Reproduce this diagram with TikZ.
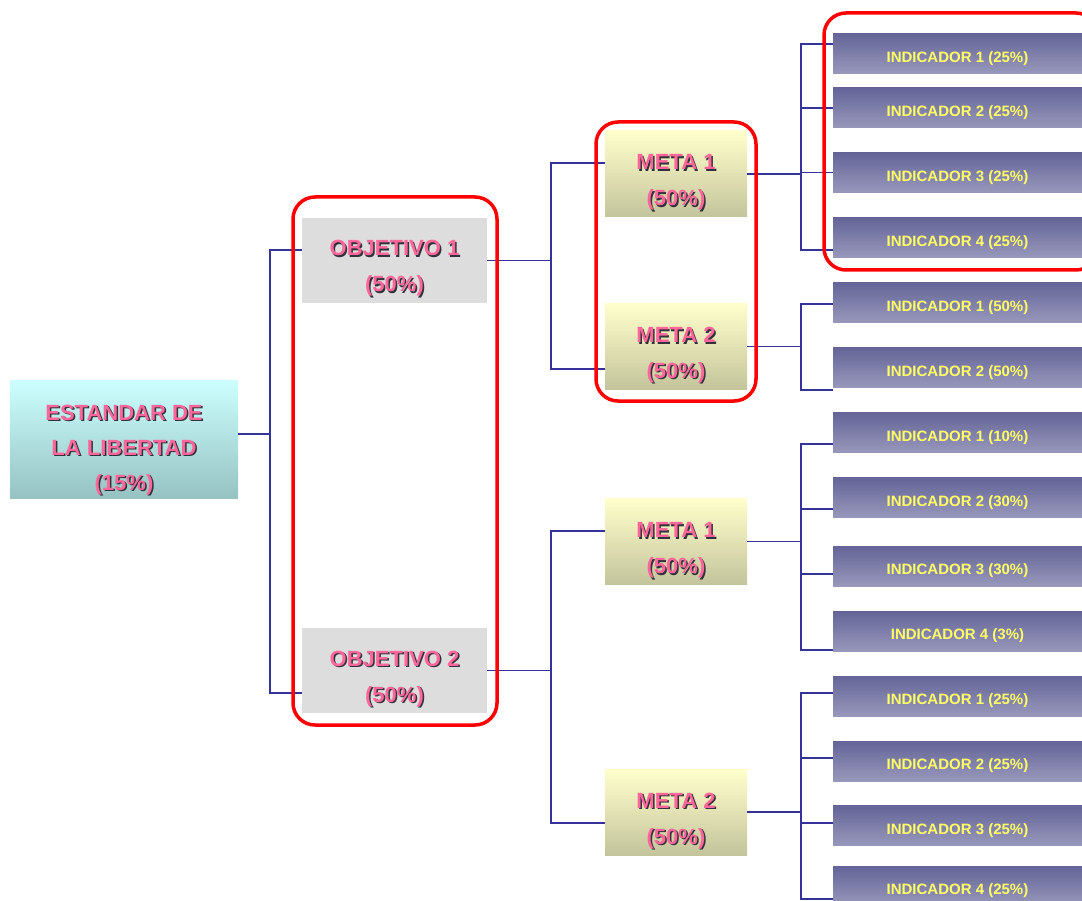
\documentclass[tikz,border=0pt]{standalone}
\usepackage{fontspec}
\setmainfont{Liberation Sans}
\definecolor{pinktxt}{RGB}{255,102,153}
\definecolor{shadowgray}{RGB}{50,50,60}
\definecolor{yellowtxt}{RGB}{255,255,102}
\definecolor{linkblue}{RGB}{51,51,153}
\definecolor{hilite}{RGB}{255,0,0}
\definecolor{rootTop}{RGB}{204,255,255}
\definecolor{rootBot}{RGB}{150,194,194}
\definecolor{objFill}{RGB}{221,221,221}
\definecolor{metaTop}{RGB}{255,255,204}
\definecolor{metaBot}{RGB}{196,196,156}
\definecolor{indTop}{RGB}{100,100,152}
\definecolor{indBot}{RGB}{152,152,188}
% pink caption with a dark drop shadow
\newcommand\shtext[1]{\leavevmode\rlap{\kern1.5pt\raisebox{-1.5pt}{\color{shadowgray}#1}}#1}
% multi-line node text sits on its last baseline; text height/depth place it in the box
\tikzset{
  bigtext/.style={font=\fontsize{22}{36}\selectfont\bfseries, text=pinktxt, align=center, inner sep=0pt},
  rootbox/.style={bigtext, font=\fontsize{22}{35}\selectfont\bfseries, top color=rootTop, bottom color=rootBot,
    minimum width=228pt, minimum height=118pt, text height=102pt, text depth=0pt},
  objbox/.style={bigtext, fill=objFill, minimum width=185pt, minimum height=85pt, text height=63pt, text depth=0pt},
  metabox/.style={bigtext, top color=metaTop, bottom color=metaBot, minimum width=142pt, minimum height=86pt,
    text height=64pt, text depth=0pt},
  indbox/.style={font=\fontsize{15}{18}\selectfont\bfseries, text=yellowtxt, top color=indTop, bottom color=indBot,
    minimum width=249pt, minimum height=40pt, inner sep=0pt, text height=17.5pt, text depth=0pt},
  conn/.style={draw=linkblue, line width=1.4pt},
  groupframe/.style={draw=hilite, line width=3.5pt, rounded corners=22pt},
}
\begin{document}
\begin{tikzpicture}[x=1pt, y=-1pt]
\useasboundingbox (0,0) rectangle (1082,901);
\clip (0,0) rectangle (1082,901);

% root
\node[rootbox] (root) at (124,439) {\shtext{ESTANDAR DE}\\\shtext{LA LIBERTAD}\\\shtext{(15\%)}};

% objectives
\node[objbox] (obj1) at (394.5,260.5) {\shtext{OBJETIVO 1}\\\shtext{(50\%)}};
\node[objbox] (obj2) at (394.5,670.5) {\shtext{OBJETIVO 2}\\\shtext{(50\%)}};

% goals
\node[metabox] (m1a) at (676,174) {\shtext{META 1}\\\shtext{(50\%)}};
\node[metabox] (m2a) at (676,346.5) {\shtext{META 2}\\\shtext{(50\%)}};
\node[metabox] (m1b) at (676,541.5) {\shtext{META 1}\\\shtext{(50\%)}};
\node[metabox] (m2b) at (676,812) {\shtext{META 2}\\\shtext{(50\%)}};

% indicators
\node[indbox] (a1) at (957.5,53.5) {INDICADOR 1 (25\%)};
\node[indbox] (a2) at (957.5,108) {INDICADOR 2 (25\%)};
\node[indbox] (a3) at (957.5,172.5) {INDICADOR 3 (25\%)};
\node[indbox] (a4) at (957.5,237.5) {INDICADOR 4 (25\%)};
\node[indbox] (b1) at (957.5,302.5) {INDICADOR 1 (50\%)};
\node[indbox] (b2) at (957.5,367.5) {INDICADOR 2 (50\%)};
\node[indbox] (c1) at (957.5,432.5) {INDICADOR 1 (10\%)};
\node[indbox] (c2) at (957.5,497.5) {INDICADOR 2 (30\%)};
\node[indbox] (c3) at (957.5,566) {INDICADOR 3 (30\%)};
\node[indbox] (c4) at (957.5,631) {INDICADOR 4 (3\%)};
\node[indbox] (d1) at (957.5,696) {INDICADOR 1 (25\%)};
\node[indbox] (d2) at (957.5,761) {INDICADOR 2 (25\%)};
\node[indbox] (d3) at (957.5,825.5) {INDICADOR 3 (25\%)};
\node[indbox] (d4) at (957.5,886) {INDICADOR 4 (25\%)};

% junction points of the tree
\coordinate (j0) at (270,434);
\coordinate (j1) at (551,260.5);
\coordinate (j2) at (551,670.5);
\coordinate (jA) at (801,174);
\coordinate (jB) at (801,346.5);
\coordinate (jC) at (801,541.5);
\coordinate (jD) at (801,812);

% root -> objectives
\draw[conn] ([yshift=5pt]root.east) -- (j0);
\draw[conn] ([yshift=10.5pt]obj1.west) -| (j0) |- ([yshift=-22.5pt]obj2.west);

% objectives -> goals
\draw[conn] (obj1.east) -- (j1);
\draw[conn] ([yshift=11pt]m1a.west) -| (j1) |- ([yshift=-22.5pt]m2a.west);
\draw[conn] (obj2.east) -- (j2);
\draw[conn] ([yshift=10.5pt]m1b.west) -| (j2) |- ([yshift=-11pt]m2b.west);

% goals -> indicators
\draw[conn] (m1a.east) -- (jA);
\draw[conn] ([yshift=9.5pt]a1.west) -| (jA) |- ([yshift=-12.5pt]a4.west);
\draw[conn] (a2.west) -- (a2.west -| jA);
\draw[conn] (a3.west) -- (a3.west -| jA);

\draw[conn] (m2a.east) -- (jB);
\draw[conn] ([yshift=-1.5pt]b1.west) -| (jB) |- ([yshift=-22.5pt]b2.west);

\draw[conn] (m1b.east) -- (jC);
\draw[conn] ([yshift=-11.5pt]c1.west) -| (jC) |- ([yshift=-19pt]c4.west);
\draw[conn] ([yshift=-11.5pt]c2.west) -- ([yshift=-11.5pt]c2.west -| jC);
\draw[conn] ([yshift=-8pt]c3.west) -- ([yshift=-8pt]c3.west -| jC);

\draw[conn] (m2b.east) -- (jD);
\draw[conn] ([yshift=3pt]d1.west) -| (jD) |- ([yshift=-13pt]d4.west);
\draw[conn] ([yshift=3pt]d2.west) -- ([yshift=3pt]d2.west -| jD);
\draw[conn] ([yshift=2.5pt]d3.west) -- ([yshift=2.5pt]d3.west -| jD);

% red outlines around highlighted groups
\draw[groupframe] (293,197) rectangle (497,725);
\draw[groupframe] (596,122) rectangle (756,401);
\draw[groupframe] (824,13) rectangle (1098,270);
\end{tikzpicture}
\end{document}
